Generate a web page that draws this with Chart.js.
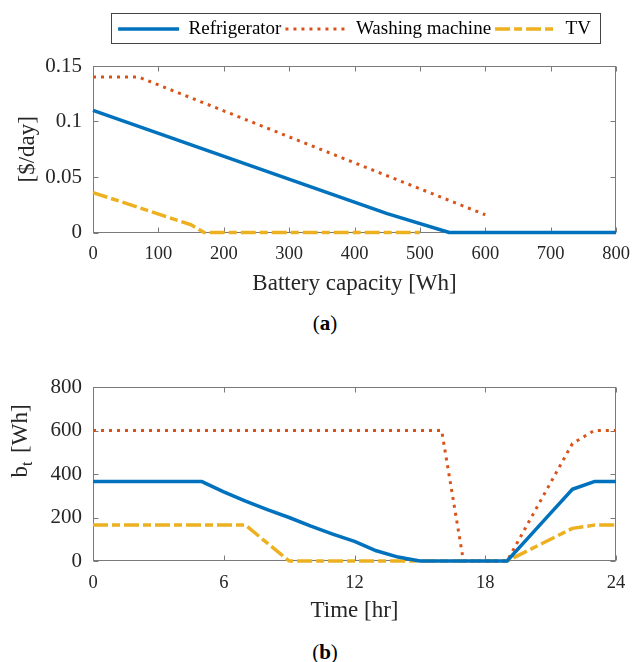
<!DOCTYPE html>
<html><head><meta charset="utf-8">
<script src="https://cdn.jsdelivr.net/npm/chart.js@4.4.0/dist/chart.umd.min.js"></script>
<style>
html,body{margin:0;padding:0;background:#fff;}
body{width:632px;height:662px;position:relative;overflow:hidden;font-family:"Liberation Serif",serif;}
#ca{position:absolute;left:0;top:0;}
#cb{position:absolute;left:0;top:340px;}
.cap{position:absolute;width:100px;text-align:center;font-size:21px;color:#000;line-height:24px;font-family:"Liberation Serif",serif;}
</style></head><body>
<canvas id="ca" width="632" height="300"></canvas>
<canvas id="cb" width="632" height="287"></canvas>
<div class="cap" style="left:275px;top:311px">(<b>a</b>)</div>
<div class="cap" style="left:275px;top:640px">(<b>b</b>)</div>
<script>
// ---------- data ----------
const seriesNames = ['Refrigerator', 'Washing machine', 'TV'];

// (a) cost vs battery capacity
const capRefrig  = [0, 450, 545, 800];
const costRefrig = [0.110, 0.017, 0, 0];
const capWasher  = [0, 70, 600];
const costWasher = [0.140, 0.140, 0.016];
const capTV      = [0, 150, 170, 500];
const costTV     = [0.036, 0.007, 0, 0];
const xTicksA = [0, 100, 200, 300, 400, 500, 600, 700, 800];
const yTicksA = [0, 0.05, 0.1, 0.15];
const yTickLabelsA = ['0', '0.05', '0.1', '0.15'];

// (b) battery state vs time
const hours   = [0,1,2,3,4,5,6,7,8,9,10,11,12,13,14,15,16,17,18,19,20,21,22,23,24];
const bRefrig = [365,365,365,365,365,365,318,275,236,200,160,124,90,47,18,0,0,0,0,0,110,220,330,365,365];
const bWasher = [600,600,600,600,600,600,600,600,600,600,600,600,600,600,600,600,600,0,0,0,180,360,540,600,600];
const bTV     = [165,165,165,165,165,165,165,165,82,0,0,0,0,0,0,0,0,0,0,0,50,100,150,165,165];
const xTicksB = [0, 6, 12, 18, 24];
const yTicksB = [0, 200, 400, 600, 800];

// ---------- styles ----------
const FONT = '"Liberation Serif", "Times New Roman", serif';
const TXT = '#262626';
const lineStyles = [
  {borderColor: '#0072BD', borderWidth: 3.5, borderDash: []},
  {borderColor: '#D95319', borderWidth: 3,   borderDash: [3, 5]},
  {borderColor: '#EDB120', borderWidth: 3.5, borderDash: [15, 4, 8, 4]}
];

function pts(xs, ys) { return xs.map((x, i) => ({x: x, y: ys[i]})); }
function ds(i, data) {
  return Object.assign({label: seriesNames[i], data: data, pointRadius: 0, fill: false,
    tension: 0, clip: false, borderCapStyle: 'butt', borderJoinStyle: 'round'}, lineStyles[i]);
}

const framePlugin = {
  id: 'frame',
  beforeDatasetsDraw(chart) {
    const {ctx, chartArea: a, scales} = chart;
    const xs = scales.x, ys = scales.y;
    ctx.save();
    ctx.strokeStyle = '#7a7a7a';
    ctx.lineWidth = 1;
    const L = Math.round(a.left) + 0.5, R = Math.round(a.right) - 0.5;
    const T = Math.round(a.top) + 0.5, B = Math.round(a.bottom) - 0.5;
    ctx.strokeRect(L, T, R - L, B - T);
    ctx.beginPath();
    xs.ticks.forEach(t => {
      const p = Math.round(xs.getPixelForValue(t.value)) + 0.5;
      ctx.moveTo(p, B); ctx.lineTo(p, B - 5);
      ctx.moveTo(p, T); ctx.lineTo(p, T + 5);
    });
    ys.ticks.forEach(t => {
      const p = Math.round(ys.getPixelForValue(t.value)) + 0.5;
      ctx.moveTo(L, p); ctx.lineTo(L + 5, p);
      ctx.moveTo(R, p); ctx.lineTo(R - 5, p);
    });
    ctx.stroke();
    ctx.restore();
  }
};

const legendBoxPlugin = {
  id: 'legendBox',
  afterDraw(chart) {
    const lg = chart.legend;
    if (!lg || !lg.legendHitBoxes || !lg.legendHitBoxes.length) return;
    const hb = lg.legendHitBoxes;
    const first = hb[0], last = hb[hb.length - 1];
    const cy = first.top + first.height / 2;
    const ctx = chart.ctx;
    ctx.save();
    ctx.strokeStyle = '#444';
    ctx.lineWidth = 1;
    const l = Math.round(first.left - 7) + 0.5;
    const r = Math.round(last.left + last.width + 9) + 0.5;
    const t = Math.round(cy - 16) + 0.5;
    const b = Math.round(cy + 14) + 0.5;
    ctx.strokeRect(l, t, r - l, b - t);
    ctx.restore();
  }
};

const yTitleBPlugin = {
  id: 'yTitleB',
  afterDraw(chart) {
    const ctx = chart.ctx;
    ctx.save();
    ctx.translate(26.7, 101);
    ctx.rotate(-Math.PI / 2);
    ctx.fillStyle = TXT;
    ctx.textBaseline = 'alphabetic';
    ctx.textAlign = 'left';
    const big = '23px ' + FONT, small = '16px ' + FONT;
    ctx.font = big;  const wb = ctx.measureText('b').width;
    ctx.font = small; const wt = ctx.measureText('t').width;
    ctx.font = big;  const ww = ctx.measureText(' [Wh]').width;
    const gap = 3;
    const total = wb + wt + gap + ww;
    let x = -total / 2;
    ctx.font = big; ctx.fillText('b', x, 0); x += wb;
    ctx.font = small; ctx.fillText('t', x, 5); x += wt + gap;
    ctx.font = big; ctx.fillText(' [Wh]', x, 0);
    ctx.restore();
  }
};

function setTicks(arr) { return function(s) { s.ticks = arr.map(v => ({value: v})); }; }
function fitX(h) { return function(s) { s.height = h; s.paddingLeft = 0; s.paddingRight = 0; }; }

// ---------- chart (a) ----------
new Chart(document.getElementById('ca'), {
  type: 'line',
  data: {datasets: [
    ds(0, pts(capRefrig, costRefrig)),
    ds(1, pts(capWasher, costWasher)),
    ds(2, pts(capTV, costTV))
  ]},
  options: {
    responsive: false, animation: false, devicePixelRatio: 1,
    layout: {padding: {top: 15.5, left: 0, right: 16, bottom: 0}},
    plugins: {
      tooltip: {enabled: false},
      legend: {
        display: true, position: 'top', fullSize: false, align: 'center',
        labels: {
          usePointStyle: true, pointStyle: 'line', pointStyleWidth: 61, padding: 4,
          color: '#000', font: {family: FONT, size: 19},
          generateLabels(chart) {
            return chart.data.datasets.map((d, i) => ({
              text: d.label, fillStyle: d.borderColor, strokeStyle: d.borderColor,
              lineWidth: d.borderWidth, lineDash: d.borderDash, lineCap: 'butt',
              pointStyle: 'line', hidden: false, datasetIndex: i, fontColor: '#000'
            }));
          }
        }
      }
    },
    scales: {
      x: {
        type: 'linear', position: 'bottom', min: 0, max: 800,
        afterBuildTicks: setTicks(xTicksA),
        ticks: {padding: 11, color: TXT, font: {family: FONT, size: 18.5}, maxRotation: 0,
          callback: (v, i) => String(xTicksA[i])},
        grid: {display: false, drawTicks: false}, border: {display: false},
        title: {display: true, text: 'Battery capacity [Wh]', color: TXT,
          font: {family: FONT, size: 23}, padding: {top: 0, bottom: 2.2}},
        afterFit: fitX(67.5)
      },
      xTop: {
        type: 'linear', position: 'top', min: 0, max: 800,
        ticks: {display: false}, grid: {display: false, drawTicks: false}, border: {display: false},
        afterFit: fitX(17.5)
      },
      y: {
        type: 'linear', position: 'left', min: 0, max: 0.15,
        afterBuildTicks: setTicks(yTicksA),
        ticks: {padding: 11, color: TXT, font: {family: FONT, size: 21},
          callback: (v, i) => yTickLabelsA[i]},
        grid: {display: false, drawTicks: false}, border: {display: false},
        title: {display: true, text: '[$/day]', color: TXT,
          font: {family: FONT, size: 23}, padding: {top: 14, bottom: 0}},
        afterFit: s => { s.width = 93; }
      }
    }
  },
  plugins: [framePlugin, legendBoxPlugin]
});

// ---------- chart (b) ----------
new Chart(document.getElementById('cb'), {
  type: 'line',
  data: {datasets: [
    ds(0, pts(hours, bRefrig)),
    ds(1, pts(hours, bWasher)),
    ds(2, pts(hours, bTV))
  ]},
  options: {
    responsive: false, animation: false, devicePixelRatio: 1,
    layout: {padding: {top: 47, left: 0, right: 16, bottom: 0}},
    plugins: {tooltip: {enabled: false}, legend: {display: false}},
    scales: {
      x: {
        type: 'linear', position: 'bottom', min: 0, max: 24,
        afterBuildTicks: setTicks(xTicksB),
        ticks: {padding: 11, color: TXT, font: {family: FONT, size: 18.5}, maxRotation: 0,
          callback: (v, i) => String(xTicksB[i])},
        grid: {display: false, drawTicks: false}, border: {display: false},
        title: {display: true, text: 'Time [hr]', color: TXT,
          font: {family: FONT, size: 23}, padding: {top: 0, bottom: 2.7}},
        afterFit: fitX(66)
      },
      y: {
        type: 'linear', position: 'left', min: 0, max: 800,
        afterBuildTicks: setTicks(yTicksB),
        ticks: {padding: 11, color: TXT, font: {family: FONT, size: 21},
          callback: (v, i) => String(yTicksB[i])},
        grid: {display: false, drawTicks: false}, border: {display: false},
        title: {display: false},
        afterFit: s => { s.width = 93; }
      }
    }
  },
  plugins: [framePlugin, yTitleBPlugin]
});
</script>
</body></html>
